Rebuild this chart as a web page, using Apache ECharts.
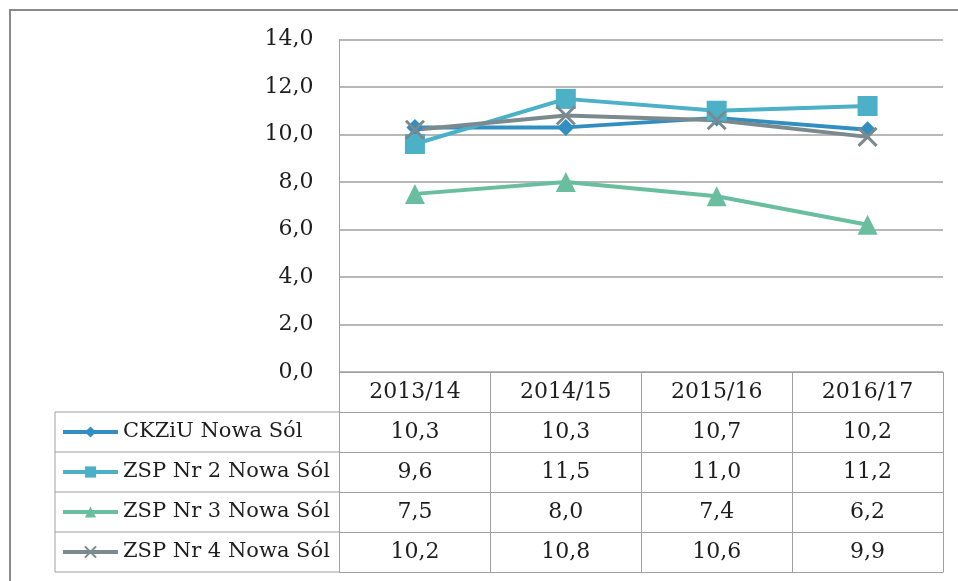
<!DOCTYPE html>
<html>
<head>
<meta charset="utf-8">
<script src="https://cdn.jsdelivr.net/npm/echarts@6/dist/echarts.min.js"></script>
<style>
  html, body { margin: 0; padding: 0; background: #fff; }
  #chart { width: 958px; height: 581px; }
</style>
</head>
<body>
<div id="chart"></div>
<script>
// data
var categories = ['2013/14', '2014/15', '2015/16', '2016/17'];
var seriesNames = ['CKZiU Nowa Sól', 'ZSP Nr 2 Nowa Sól', 'ZSP Nr 3 Nowa Sól', 'ZSP Nr 4 Nowa Sól'];
var ckziu = [10.3, 10.3, 10.7, 10.2];
var zsp2 = [9.6, 11.5, 11.0, 11.2];
var zsp3 = [7.5, 8.0, 7.4, 6.2];
var zsp4 = [10.2, 10.8, 10.6, 9.9];

var rows = [ckziu, zsp2, zsp3, zsp4];
var colors = ['#318ec0', '#4cb0c6', '#69be9f', '#7b8a8e'];
var symbols = ['diamond', 'rect', 'triangle', 'path://M0,0 L10,10 M10,0 L0,10'];
var symbolSizes = [17, 20, 20, 18];

// layout
var W = 958, H = 581;
var plotLeft = 339.5, plotTop = 39.5, plotRight = 943, plotBottom = 372;
var rowH = 40;
var tableLeft = 55;
var font = 'DejaVu Serif';
var gridColor = '#a0a0a0';
var textColor = '#1e1e1e';

function fmt(v) { return v.toFixed(1).replace('.', ','); }

var myChart = echarts.init(document.getElementById('chart'), null, { renderer: 'canvas' });

var xAxes = [{
  type: 'category',
  data: categories,
  position: 'bottom',
  axisLine: { show: true, lineStyle: { color: gridColor, width: 1 } },
  axisTick: { show: true, length: rowH * 5, lineStyle: { color: gridColor, width: 1 } },
  axisLabel: {
    margin: 0, lineHeight: rowH, fontSize: 22, fontFamily: font, color: textColor
  }
}];

rows.forEach(function(r, i) {
  xAxes.push({
    type: 'category',
    data: categories,
    position: 'bottom',
    offset: rowH * (i + 1),
    axisLine: { show: true, lineStyle: { color: gridColor, width: 1 } },
    axisTick: { show: false },
    axisLabel: {
      margin: 0, lineHeight: rowH, fontSize: 22, fontFamily: font, color: textColor,
      formatter: function(v, idx) { return fmt(r[idx]); }
    }
  });
});
// bottom border of the table
xAxes.push({
  type: 'category',
  data: categories,
  position: 'bottom',
  offset: rowH * 5,
  axisLine: { show: true, lineStyle: { color: gridColor, width: 1 } },
  axisTick: { show: false },
  axisLabel: { show: false }
});

var series = rows.map(function(r, i) {
  return {
    name: seriesNames[i],
    type: 'line',
    data: r,
    xAxisIndex: 0,
    symbol: symbols[i],
    symbolSize: symbolSizes[i],
    showAllSymbol: true,
    color: colors[i],
    lineStyle: { width: 4, color: colors[i] },
    itemStyle: i === 3
      ? { color: 'rgba(0,0,0,0)', borderColor: colors[i], borderWidth: 3 }
      : { color: colors[i] },
    emphasis: { disabled: true },
    animation: false
  };
});

// table borders for the legend column (left of the plot)
var tableLines = [];
for (var k = 1; k <= 5; k++) {
  tableLines.push({
    type: 'line',
    shape: { x1: tableLeft, y1: plotBottom + rowH * k, x2: plotLeft, y2: plotBottom + rowH * k },
    style: { stroke: gridColor, lineWidth: 1 }
  });
}
tableLines.push({
  type: 'line',
  shape: { x1: tableLeft, y1: plotBottom + rowH, x2: tableLeft, y2: plotBottom + rowH * 5 },
  style: { stroke: gridColor, lineWidth: 1 }
});
// outer chart border
tableLines.push({
  type: 'rect',
  shape: { x: 10, y: 10, width: W + 20, height: H + 20 },
  style: { fill: null, stroke: '#8a8a8a', lineWidth: 2 }
});

var option = {
  backgroundColor: '#fff',
  animation: false,
  grid: {
    left: plotLeft, top: plotTop, right: W - plotRight, bottom: H - plotBottom,
    containLabel: false
  },
  legend: {
    orient: 'vertical',
    left: 61,
    top: plotBottom + rowH,
    padding: 0,
    itemGap: 0,
    itemWidth: 55,
    itemHeight: 14,
    selectedMode: false,
    lineStyle: { width: 4 },
    textStyle: { fontSize: 21, lineHeight: rowH, fontFamily: font, color: textColor },
    data: seriesNames
  },
  xAxis: xAxes,
  yAxis: {
    type: 'value',
    min: 0, max: 14, interval: 2,
    axisLine: { show: true, lineStyle: { color: gridColor, width: 1 } },
    axisTick: { show: false },
    splitLine: { show: true, lineStyle: { color: gridColor, width: 1.5 } },
    axisLabel: {
      margin: 26, fontSize: 22, fontFamily: font, color: textColor,
      formatter: function(v) { return fmt(v); }
    }
  },
  series: series,
  graphic: tableLines
};

myChart.setOption(option);
</script>
</body>
</html>
